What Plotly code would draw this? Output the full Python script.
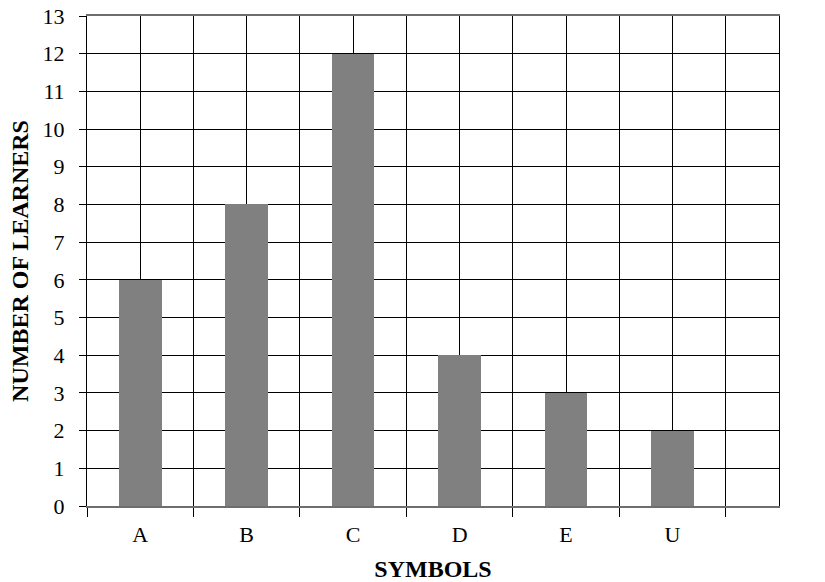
import plotly.graph_objects as go

symbols = ["A", "B", "C", "D", "E", "U"]
learners = [6, 8, 12, 4, 3, 2]
y_ticks = list(range(0, 14))

x_pos = list(range(len(symbols)))
boundaries = [i - 0.5 for i in range(len(symbols) + 1)]

fig = go.Figure()
fig.add_trace(go.Bar(
    x=x_pos, y=learners, width=0.4,
    marker=dict(color="#808080", line=dict(width=0)),
))

font = "Liberation Serif, Times New Roman, serif"
fig.update_layout(
    width=825, height=582,
    margin=dict(l=87, r=46, t=16, b=76, autoexpand=False),
    paper_bgcolor="white", plot_bgcolor="white",
    showlegend=False,
    font=dict(family=font, size=22, color="black"),
    bargap=0,
)
fig.update_xaxes(
    range=[-0.5, 6.0], automargin=False,
    tickmode="array", tickvals=x_pos, ticktext=symbols,
    ticks="", showgrid=True, gridcolor="black", gridwidth=1,
    minor=dict(tickmode="array", tickvals=boundaries, ticks="outside",
               ticklen=9, tickcolor="black", showgrid=True,
               gridcolor="black", gridwidth=1),
    showline=True, linecolor="#6e6e6e", linewidth=2, mirror=True,
    ticklabelstandoff=8, ticklabeloverflow="allow",
    tickfont=dict(size=22),
    title=dict(text="<b>SYMBOLS</b>", font=dict(size=24), standoff=15),
    zeroline=False,
)
fig.update_yaxes(
    range=[0, 13], automargin=False, tickmode="array", tickvals=y_ticks,
    ticks="outside", ticklen=7, tickcolor="black",
    showgrid=True, gridcolor="black", gridwidth=1,
    showline=True, linecolor="black", linewidth=1, mirror=True,
    ticklabelstandoff=10, ticklabeloverflow="allow",
    tickfont=dict(size=22),
    title=dict(text="<b>NUMBER OF LEARNERS</b>", font=dict(size=24), standoff=7),
    zeroline=False,
)
fig.write_html(
    "out.html",
    config={"displayModeBar": False},
    post_script="document.body.style.margin='0';document.body.style.overflow='hidden';",
)
